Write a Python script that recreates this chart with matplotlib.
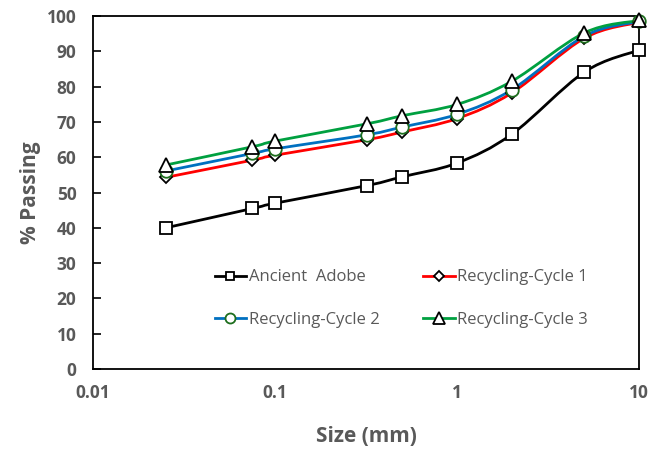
import numpy as np
import matplotlib.pyplot as plt
from matplotlib.path import Path
from matplotlib.patches import PathPatch
from matplotlib.lines import Line2D

# sieve sizes (mm) and % passing
size_mm = [0.025, 0.075, 0.1, 0.32, 0.5, 1, 2, 5, 10]
adobe = [40, 45.5, 47, 52, 54.5, 58.4, 66.6, 84.2, 90.4]
cycle1 = [54.3, 59.2, 60.6, 65, 67.2, 71, 78.3, 93.8, 98.3]
cycle2 = [56.1, 61.1, 62.4, 66.4, 68.6, 72.2, 79.2, 94.4, 98.5]
cycle3 = [57.8, 63, 64.6, 69.5, 71.8, 75, 81.6, 95.3, 98.8]

labels = ['Ancient  Adobe', 'Recycling-Cycle 1', 'Recycling-Cycle 2', 'Recycling-Cycle 3']
colors = ['black', '#ff0000', '#0070c0', '#00a040']
markers = ['s', 'D', 'o', '^']
msizes = [8, 6.5, 9, 10]
medges = ['black', 'black', '#1e6e1e', 'black']

grey = '#595959'
plt.rcParams['font.family'] = ['Open Sans', 'DejaVu Sans']


def smooth_path(x, y):
    # Excel-style smoothed line: Catmull-Rom as cubic Bezier, in log-x space
    lx = np.log10(x)
    y = np.asarray(y, float)
    n = len(lx)
    verts = [(x[0], y[0])]
    codes = [Path.MOVETO]
    for i in range(n - 1):
        p0 = (lx[max(i - 1, 0)], y[max(i - 1, 0)])
        p1 = (lx[i], y[i])
        p2 = (lx[i + 1], y[i + 1])
        p3 = (lx[min(i + 2, n - 1)], y[min(i + 2, n - 1)])
        t = 1 / 6
        c1 = (p1[0] + (p2[0] - p0[0]) * t, p1[1] + (p2[1] - p0[1]) * t)
        c2 = (p2[0] - (p3[0] - p1[0]) * t, p2[1] - (p3[1] - p1[1]) * t)
        verts += [(10 ** c1[0], c1[1]), (10 ** c2[0], c2[1]), (x[i + 1], y[i + 1])]
        codes += [Path.CURVE4] * 3
    return Path(verts, codes)


fig = plt.figure(figsize=(6.51, 4.5), dpi=100)
ax = fig.add_axes([0.143, 0.18, 0.839, 0.784])
ax.set_xscale('log')
ax.set_xlim(0.01, 10)
ax.set_ylim(0, 100)

handles = []
series = [adobe, cycle1, cycle2, cycle3]
for ys, lab, c, m, ms, me in zip(series, labels, colors, markers, msizes, medges):
    ax.add_patch(PathPatch(smooth_path(size_mm, ys), fill=False, edgecolor=c, lw=2, zorder=2))
    ax.plot(size_mm, ys, ls='none', marker=m, ms=ms, mfc='white', mec=me, mew=1.3, zorder=3, clip_on=False)
    handles.append(Line2D([], [], color=c, lw=2, marker=m, ms=ms * 0.8, mfc='white', mec=me, mew=1.3, label=lab))

# column-major fill for 2 columns
order = [0, 2, 1, 3]
ax.legend([handles[i] for i in order], [labels[i] for i in order], ncol=2, frameon=False,
          loc='upper left', bbox_to_anchor=(0.195, 0.325), fontsize=12, labelcolor=grey,
          handlelength=1.9, handletextpad=0.15, columnspacing=2.6, labelspacing=1.6)

ax.set_yticks(range(0, 101, 10))
ax.set_xticks([0.01, 0.1, 1, 10])
ax.set_xticklabels(['0.01', '0.1', '1', '10'])
ax.minorticks_off()
ax.tick_params(axis='y', direction='in', length=6, width=1.2, labelsize=12.5, labelcolor=grey, pad=12)
ax.tick_params(axis='x', direction='in', length=0, labelsize=12.5, labelcolor=grey, pad=11)
for lab in ax.get_xticklabels() + ax.get_yticklabels():
    lab.set_fontweight('bold')
for sp in ax.spines.values():
    sp.set_linewidth(1.3)

ax.set_xlabel('Size (mm)', fontsize=15, fontweight='bold', color=grey, labelpad=17)
ax.set_ylabel('% Passing', fontsize=15, fontweight='bold', color=grey, labelpad=4)

fig.savefig('out.png', dpi=100)
